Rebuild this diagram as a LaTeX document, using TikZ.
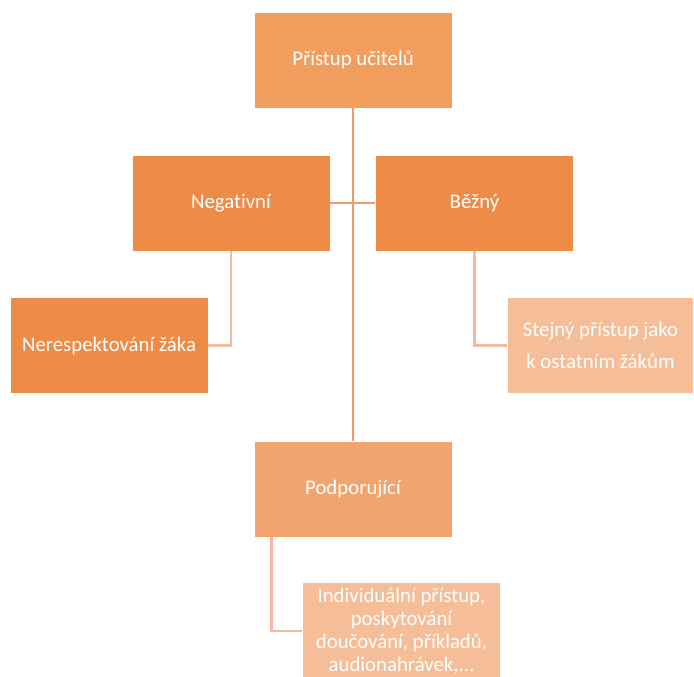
\documentclass[tikz,border=0pt]{standalone}
\usepackage{fontspec}
\setmainfont{Carlito}[Ligatures={NoCommon}]
\usetikzlibrary{calc}
\definecolor{orA}{HTML}{F09D5E}
\definecolor{orB}{HTML}{EE8B46}
\definecolor{orC}{HTML}{F1A46E}
\definecolor{orD}{HTML}{F5BE98}
\definecolor{lnA}{HTML}{F09A6B}
\definecolor{lnB}{HTML}{F5B9A2}
\tikzset{
  box/.style={draw=white,line width=0.6pt,text=white,inner sep=0pt,
    minimum width=148.5pt,minimum height=72pt,align=center,
    font=\fontsize{15.6}{19}\selectfont},
  mainline/.style={draw=lnA,line width=2.2pt},
  subline/.style={draw=lnB,line width=2.2pt}
}
\begin{document}
\begin{tikzpicture}[x=0.75pt,y=-0.75pt]
\useasboundingbox (0,0) rectangle (694,677);
\node[box,fill=orA] (top) at (353,60) {Přístup učitelů};
\node[box,fill=orB] (neg) at (231,203) {Negativní};
\node[box,fill=orB] (bez) at (474.5,203) {Běžný};
\node[box,fill=orB] (ner) at (109,345.5) {Nerespektování žáka};
\node[box,fill=orD,minimum width=139.5pt,font=\fontsize{15.6}{24}\selectfont] (stej) at (600.5,345.5) {Stejný přístup jako\\k ostatním žákům};
\node[box,fill=orC] (podp) at (353,489) {Podporující};
\node[box,fill=orD,minimum height=73.5pt,font=\fontsize{15.6}{17.3}\selectfont] (ind) at (401.5,631) {Individuální přístup,\\poskytování\\doučování, příkladů,\\audionahrávek,...};
\draw[mainline] (top.south) -- (podp.north);
\draw[mainline] (neg.east) -- (bez.west);
\draw[subline] (neg.south) -- (neg.south |- ner.east) -- (ner.east);
\draw[subline] (bez.south) -- (bez.south |- stej.west) -- (stej.west);
\coordinate (pd) at ($(podp.south west)+(18,0)$);
\draw[subline] (pd) -- (pd |- ind.west) -- (ind.west);
\end{tikzpicture}
\end{document}
